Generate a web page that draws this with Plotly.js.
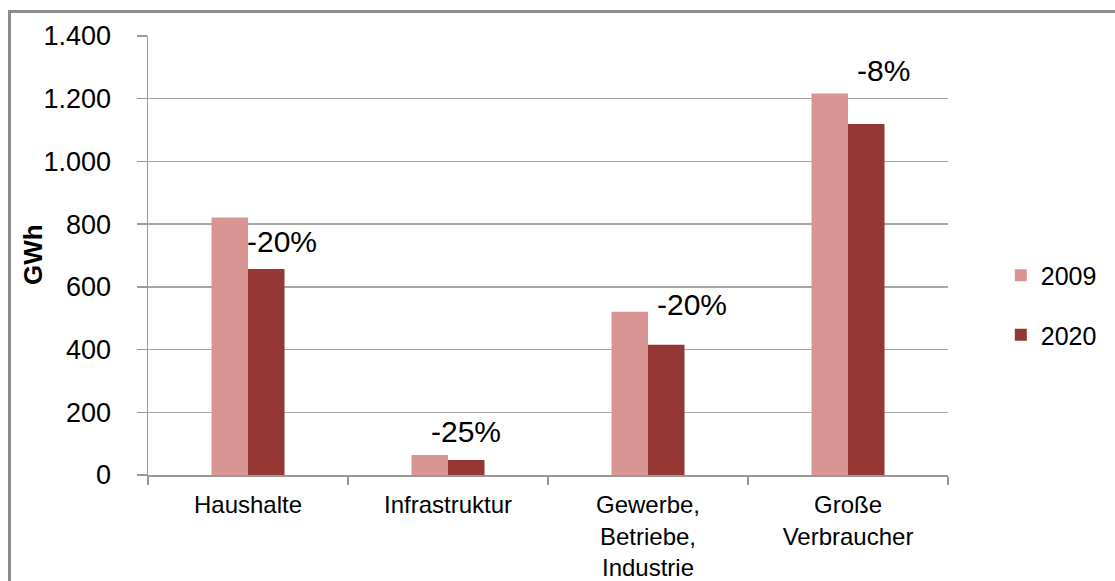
<!DOCTYPE html>
<html>
<head>
<meta charset="utf-8">
<script src="https://cdn.plot.ly/plotly-3.0.1.min.js"></script>
<style>
  html, body { margin: 0; padding: 0; background: #fff; overflow: hidden; }
  #frame { position: absolute; left: 8px; top: 10px; width: 1200px; height: 700px;
           border-top: 3px solid #8c8c8c; border-left: 3px solid #8c8c8c; }
  #chart { position: absolute; left: 0; top: 0; width: 1115px; height: 581px; }
</style>
</head>
<body>
<div id="frame"></div>
<div id="chart"></div>
<script>
const categories = ["Haushalte", "Infrastruktur", "Gewerbe,<br>Betriebe,<br>Industrie", "Große<br>Verbraucher"];
const values2009 = [821, 64, 521, 1217];
const values2020 = [657, 48, 415, 1119];
const changeLabels = ["-20%", "-25%", "-20%", "-8%"];
const seriesNames = ["2009", "2020"];
const tickValues = [0, 200, 400, 600, 800, 1000, 1200, 1400];
const yTitle = "GWh";

const labelXShift = [34, 18, 44, 35];
const labelYShift = [27, 28, 40, 54];

const font = "Liberation Sans, Arial, sans-serif";

const traces = [
  { type: "bar", x: categories, y: values2009, name: seriesNames[0],
    marker: { color: "#d99594" }, legendgroup: "a", hoverinfo: "skip" },
  { type: "bar", x: categories, y: values2020, name: seriesNames[1],
    marker: { color: "#953735" }, legendgroup: "b", hoverinfo: "skip" }
];

const annotations = categories.map((c, i) => ({
  x: c, y: values2020[i], xref: "x", yref: "y",
  text: changeLabels[i], showarrow: false,
  xanchor: "center", yanchor: "middle",
  xshift: labelXShift[i], yshift: labelYShift[i],
  font: { family: font, size: 30, color: "#000" }
}));
annotations.push({
  xref: "paper", yref: "paper", x: -0.144, y: 0.503,
  xanchor: "center", yanchor: "middle", textangle: -90, showarrow: false,
  text: "<b>" + yTitle + "</b>",
  font: { family: font, size: 26, color: "#000" }
});

const layout = {
  width: 1115, height: 581,
  margin: { l: 148, r: 167, t: 36, b: 106, autoexpand: false },
  paper_bgcolor: "rgba(0,0,0,0)", plot_bgcolor: "rgba(0,0,0,0)",
  separators: ",.",
  barmode: "group", bargap: 0.635, bargroupgap: 0,
  showlegend: true,
  legend: { x: 1.066, xanchor: "left", y: 0.387, yanchor: "middle",
            font: { family: font, size: 25, color: "#000" },
            traceorder: "grouped", tracegroupgap: 24, itemwidth: 30 },
  xaxis: {
    type: "category", showgrid: false, showline: true, linecolor: "#999", linewidth: 1.5,
    ticks: "outside", tickson: "boundaries", ticklen: 8, tickcolor: "#999", tickwidth: 1.5,
    tickfont: { family: font, size: 24, color: "#000" }, ticklabelstandoff: 8,
    fixedrange: true
  },
  yaxis: {
    range: [0, 1400], tickvals: tickValues, tickformat: ",d",
    showgrid: true, gridcolor: "#a6a6a6", gridwidth: 1.5,
    showline: true, linecolor: "#999", linewidth: 1.5,
    ticks: "outside", ticklen: 10, tickcolor: "#999", tickwidth: 1.5,
    tickfont: { family: font, size: 27, color: "#000" }, ticklabelstandoff: 20,
    zeroline: false,
    fixedrange: true
  },
  annotations: annotations
};

Plotly.newPlot("chart", traces, layout, { displayModeBar: false, staticPlot: true });
</script>
</body>
</html>
